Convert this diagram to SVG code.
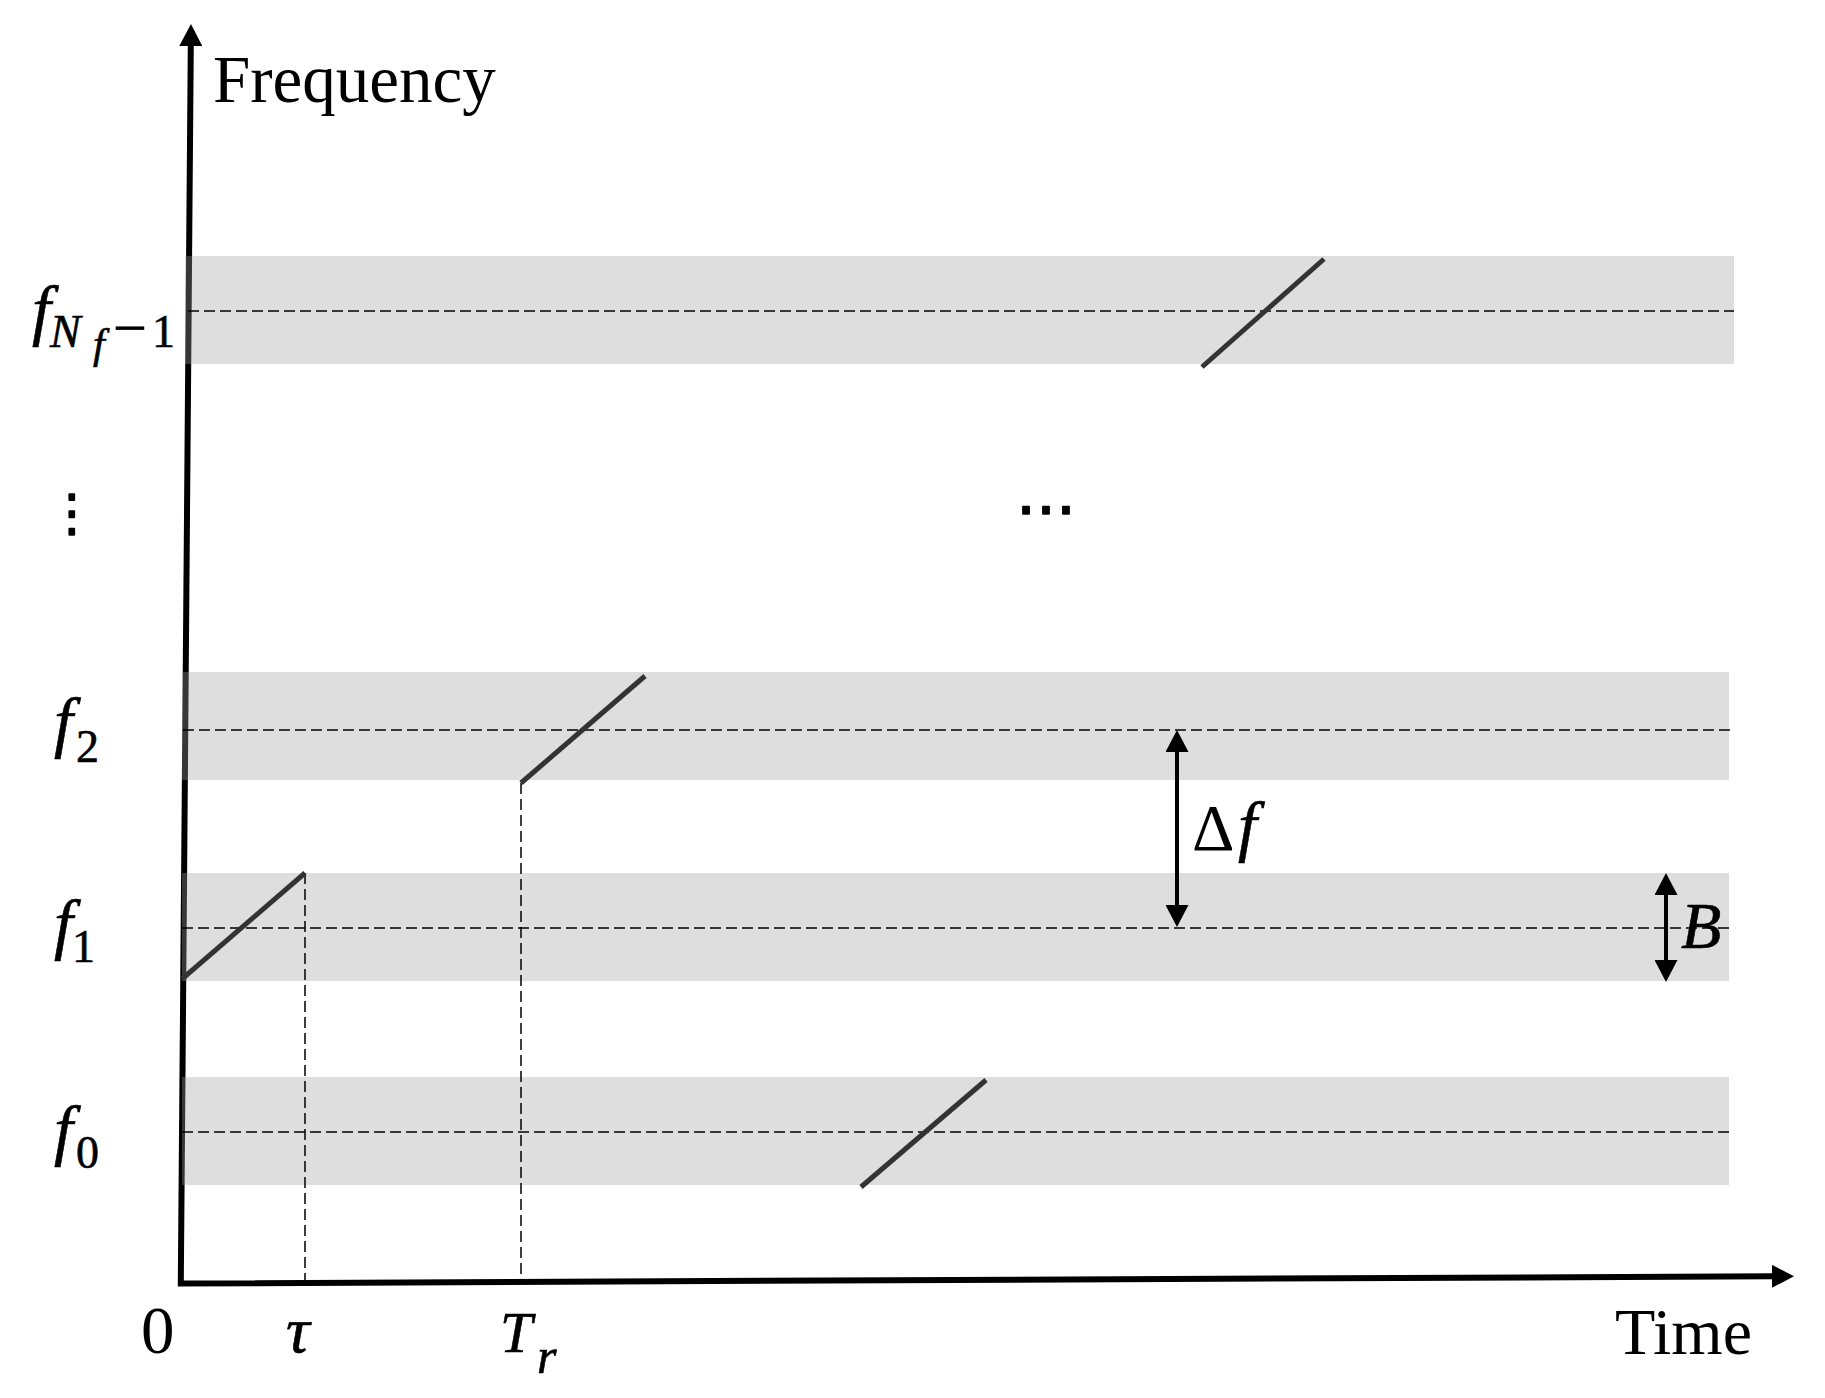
<svg xmlns="http://www.w3.org/2000/svg" width="1825" height="1398" viewBox="0 0 1825 1398">
<style>
.band{fill:#9f9f9f;fill-opacity:0.345}
.dash{stroke:#000;stroke-width:1.5;stroke-dasharray:11 5;fill:none}
.chirp{stroke:#333;stroke-width:5;fill:none}
.axis{stroke:#000;stroke-width:6;fill:none;stroke-linejoin:miter}
.dim{stroke:#000;stroke-width:4;fill:none}
.rm{font-family:"Liberation Serif","Times New Roman",serif;fill:#000}
.it{font-family:"Liberation Serif","Times New Roman",serif;font-style:italic;fill:#000;stroke:#000;stroke-width:0.6}
.dots{font-family:"DejaVu Sans",sans-serif;fill:#000;stroke:#000;stroke-width:1.6;stroke-linejoin:round}
</style>
<defs>
<marker id="ah" viewBox="0 0 22 23" refX="2" refY="11.5" markerWidth="22" markerHeight="23" markerUnits="userSpaceOnUse" orient="auto-start-reverse">
<path d="M0,0 L22,11.5 L0,23 z" fill="#000"/>
</marker>
</defs>
<rect width="1825" height="1398" fill="#fff"/>

<g id="axes">
<path class="axis" d="M190.8,44 L180.8,1283.5 L1774,1276.3" marker-start="url(#ah)" marker-end="url(#ah)"/>
</g>

<g id="band-fN">
<rect class="band" x="185" y="256" width="1549" height="108"/>
</g>
<g id="band-f2">
<rect class="band" x="182" y="672" width="1547" height="108"/>
</g>
<g id="band-f1">
<rect class="band" x="182" y="873" width="1547" height="108"/>
</g>
<g id="band-f0">
<rect class="band" x="182" y="1077" width="1547" height="108"/>
</g>

<g id="connectors">
<line class="dash" x1="188" y1="311" x2="1734" y2="311"/>
<line class="dash" x1="183" y1="730" x2="1733" y2="730"/>
<line class="dash" x1="182" y1="928" x2="1733" y2="928"/>
<line class="dash" x1="182" y1="1132" x2="1733" y2="1132"/>
<line class="dash" x1="305" y1="873" x2="305" y2="1280"/>
<line class="dash" x1="521" y1="783" x2="521" y2="1279"/>
<line class="chirp" x1="1202" y1="367" x2="1324" y2="259"/>
<line class="chirp" x1="521" y1="783" x2="645" y2="676"/>
<line class="chirp" x1="182" y1="979" x2="305" y2="873"/>
<line class="chirp" x1="861" y1="1187" x2="986" y2="1080"/>
<line class="dim" x1="1177" y1="750" x2="1177" y2="907" marker-start="url(#ah)" marker-end="url(#ah)"/>
<line class="dim" x1="1666" y1="893" x2="1666" y2="962" marker-start="url(#ah)" marker-end="url(#ah)"/>
</g>

<g id="labels">
<text class="rm" x="213" y="102" font-size="67">Frequency</text>
<text class="rm" x="1615" y="1354" font-size="66">Time</text>
<text class="rm" x="141" y="1353" font-size="67">0</text>
<text class="it" x="286" y="1352" font-size="66">τ</text>
<text class="it" x="500" y="1352" font-size="58">T<tspan x="537" y="1373" font-size="50">r</tspan></text>
<text class="it" x="32" y="333" font-size="68">f<tspan x="50" y="347" font-size="46">N</tspan><tspan x="93" y="358" font-size="42">f</tspan><tspan font-style="normal" x="113" y="348" font-size="60">−</tspan><tspan font-style="normal" x="152" y="347" font-size="46">1</tspan></text>
<text class="it" x="54" y="745" font-size="68">f<tspan font-style="normal" x="76" y="762" font-size="46">2</tspan></text>
<text class="it" x="54" y="947" font-size="68">f<tspan font-style="normal" x="72" y="962" font-size="46">1</tspan></text>
<text class="it" x="54" y="1153" font-size="68">f<tspan font-style="normal" x="76" y="1168" font-size="46">0</tspan></text>
<text class="rm" x="1192" y="850" font-size="66">Δ<tspan class="it" x="1238" y="849" font-size="68">f</tspan></text>
<text class="it" x="1681" y="948" font-size="66">B</text>
<text class="dots" x="1016" y="514" font-size="60">…</text>
<text class="dots" x="72" y="530" font-size="50" text-anchor="middle">⋮</text>
</g>
</svg>
